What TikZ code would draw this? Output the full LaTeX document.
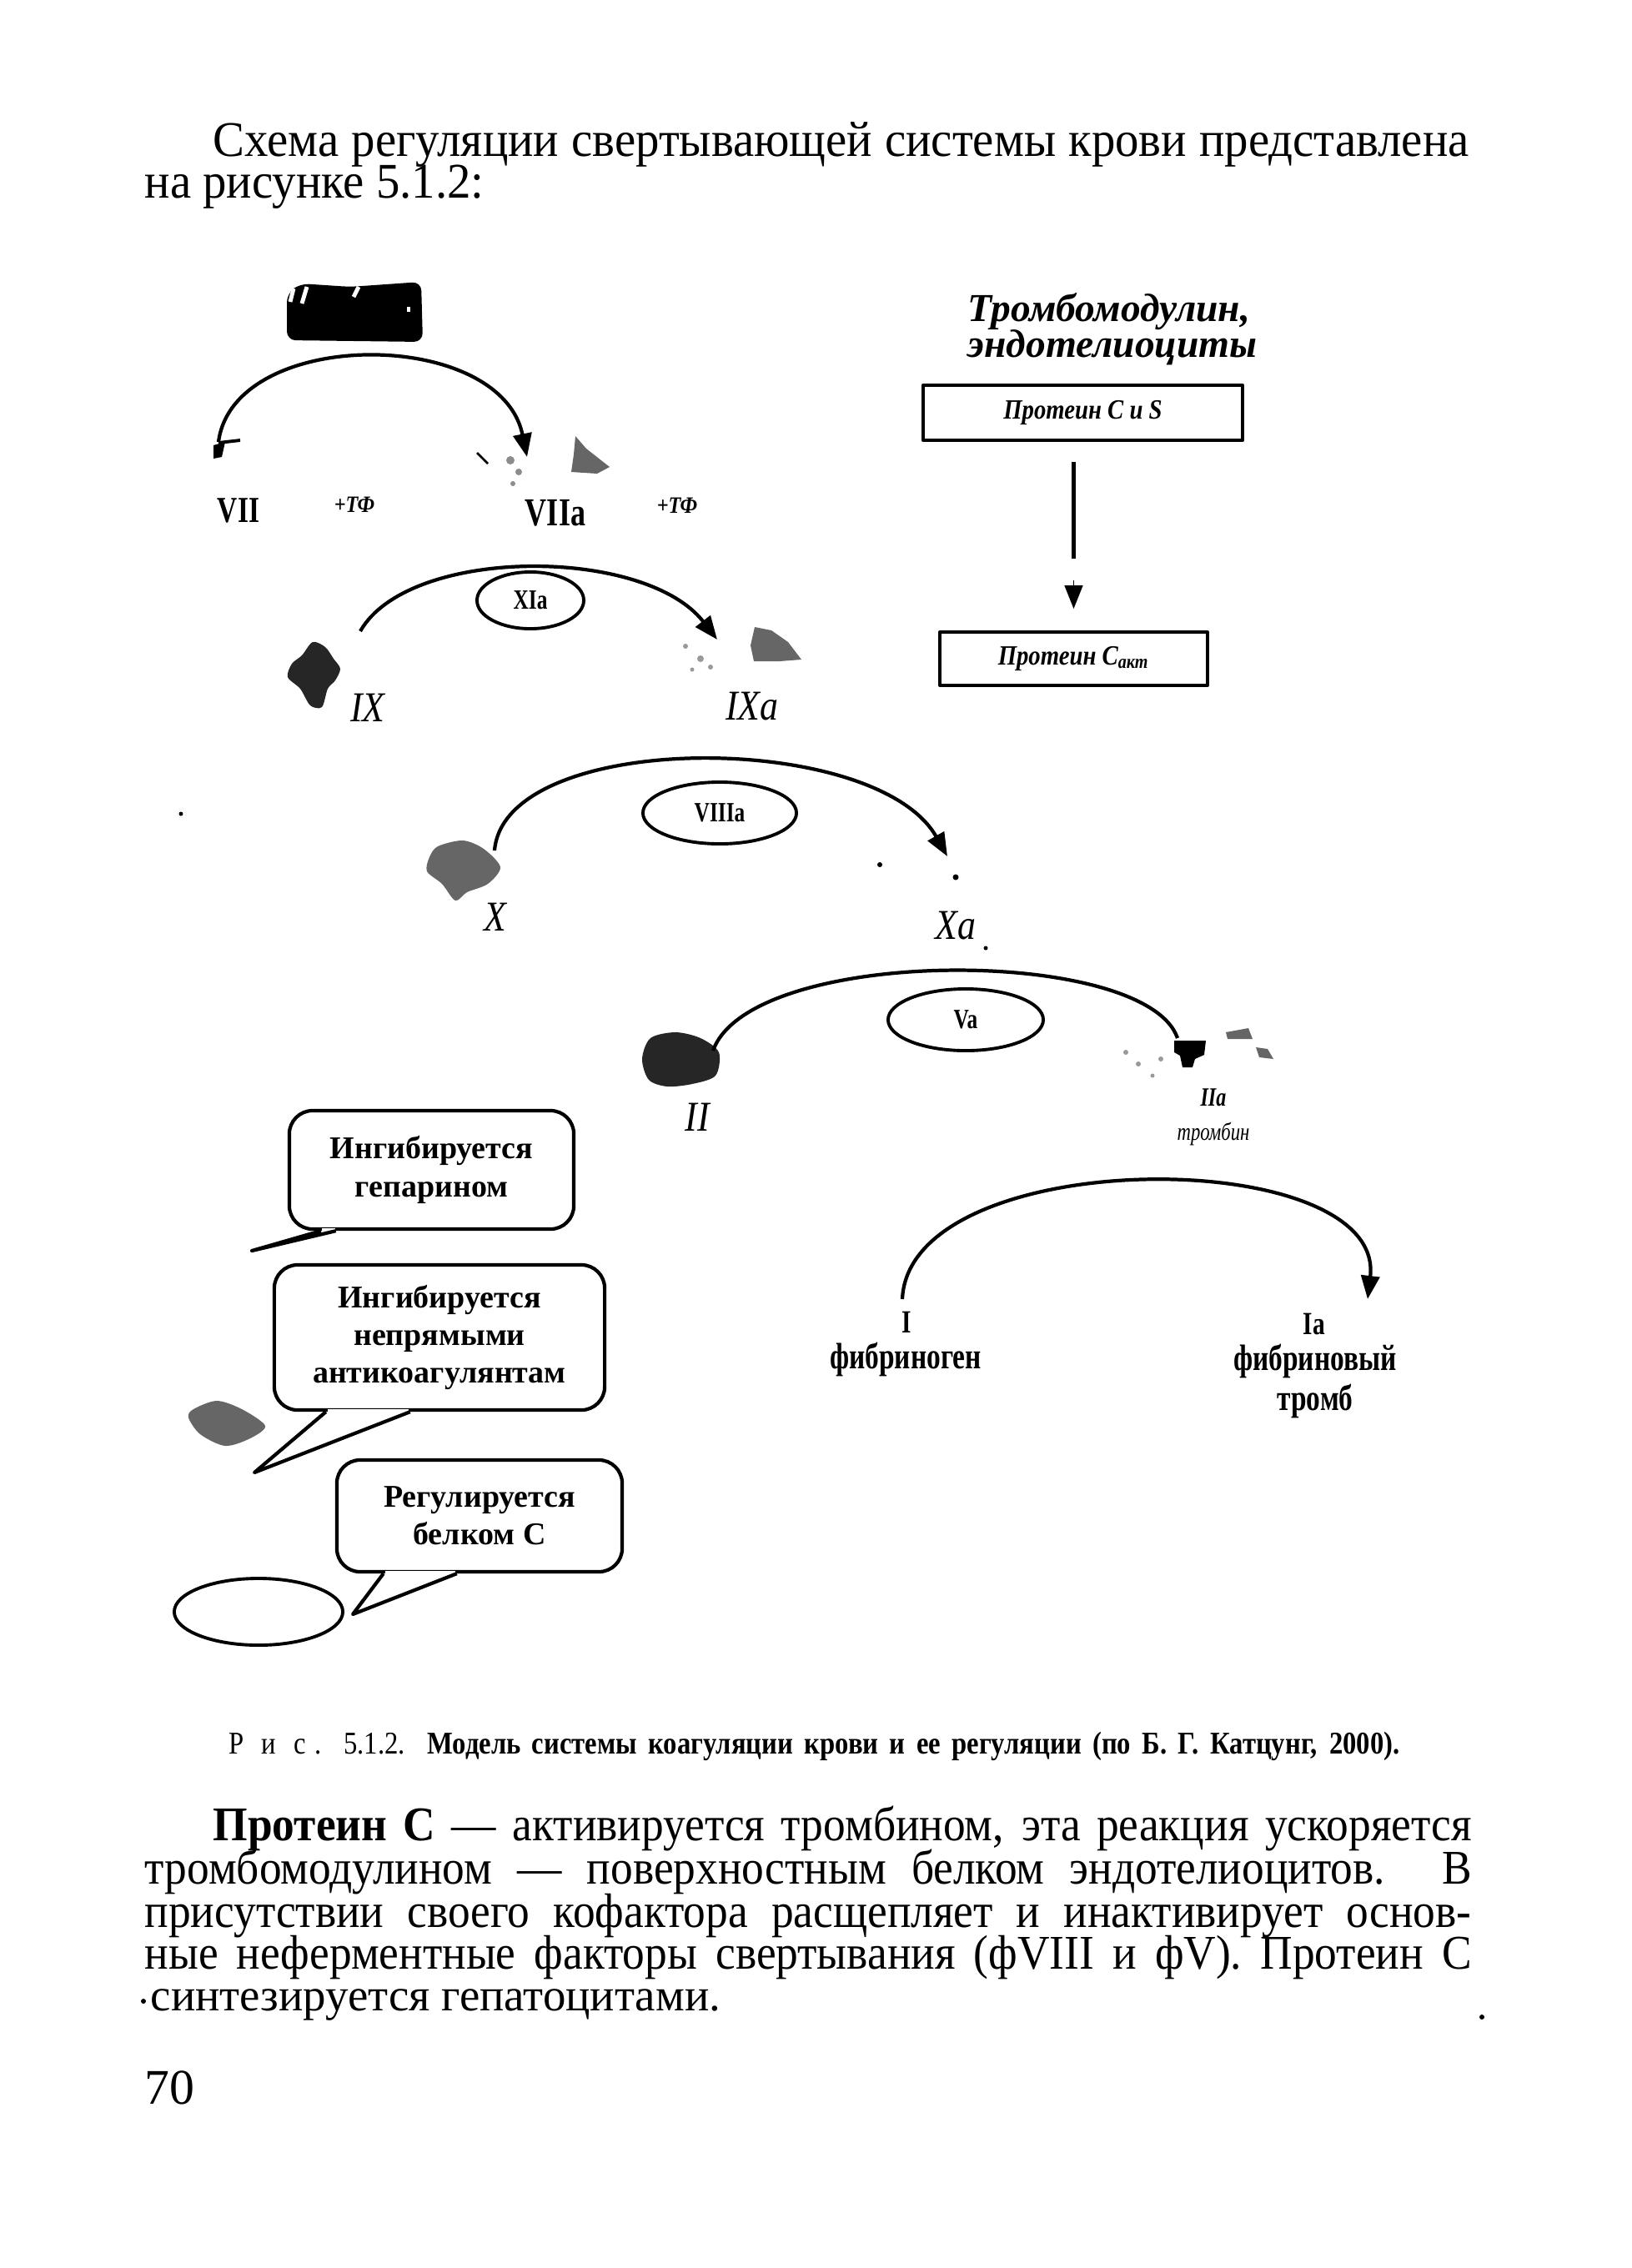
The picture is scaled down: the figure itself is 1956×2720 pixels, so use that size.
\documentclass[tikz,border=0pt]{standalone}
\usepackage{fontspec}
\setmainfont{Liberation Serif}
\newfontfamily\cnd[FakeStretch=0.95]{Liberation Serif}
\newfontfamily\cndp[FakeStretch=0.92]{Liberation Serif}
\newfontfamily\cndb[FakeStretch=0.86]{Liberation Serif}
\newfontfamily\cndd[FakeStretch=0.76]{Liberation Serif}
\usetikzlibrary{arrows.meta,shapes.geometric,calc}
\newcommand\fsz[1]{\fontsize{#1pt}{#1pt}\selectfont}
\begin{document}
\begin{tikzpicture}[x=0.01cm,y=-0.01cm,line join=round,
  arc/.style={line width=1.2pt},
  tipa/.style={-{Triangle[length=0.28cm,width=0.22cm]}},
  pbox/.style={draw,line width=1.1pt,inner sep=0pt},
  oval/.style={draw,ellipse,line width=1.1pt,inner sep=0pt},
  cbox/.style={draw,line width=1.2pt,rounded corners=0.28cm,inner sep=0pt,align=center,font=\bfseries\fontsize{10.8pt}{12.9pt}\selectfont},
  lbl/.style={inner sep=0pt},
  blob/.style={fill=black!85},
  gblob/.style={fill=black!60},
  txt/.style={inner sep=0pt,anchor=base west}]
\useasboundingbox (0,0) rectangle (1956,2720);

% ---------- page text ----------
\node[txt] (h1) at (255,187) {\makebox[15.05cm][s]{\cnd\fsz{17}Схема регуляции свертывающей системы крови представлена}};
\node[txt] (h2) at (173,237) {\cnd\fsz{17}на рисунке 5.1.2:};

% ---------- top-left blob ----------
\fill[black,rounded corners=3pt] (344,352) -- (360,340) -- (420,344) -- (505,338) -- (507,410) -- (344,408) -- cycle;
\draw[white,line width=1.4pt] (352,346) -- (348,362);
\draw[white,line width=1.4pt] (368,344) -- (362,364);
\draw[white,line width=1.4pt] (430,344) -- (424,356);
\draw[white,line width=1.4pt] (490,368) -- (490,374);

% ---------- row 1 ----------
\coordinate (a1s) at (262,530);
\coordinate (a1e) at (632,548);
\draw[arc,tipa] (a1s) .. controls (280,392) and (600,392) .. (a1e);
\fill[black] (256,534) -- (270,530) -- (266,548) -- (256,550) -- cycle;
\draw[line width=1.1pt] (262,531) -- (288,528);
\fill[gblob] (690,523) -- (703,538) -- (731,560) -- (716,568) -- (685,566) -- (688,545) -- cycle;
\fill[black!45] (612,552) circle (5) (622,566) circle (4) (615,580) circle (3);
\draw[line width=0.8pt] (572,543) -- (585,556);
\node[lbl,font=\cndd\bfseries\fsz{12.5}] (vii) at (286,612) {VII};
\node[lbl,font=\cndb\bfseries\itshape\fsz{8}] (tf1) at (425,605) {+ТФ};
\node[lbl,font=\cndd\bfseries\fsz{13.5}] (viia) at (666,615) {VIIa};
\node[lbl,font=\cndb\bfseries\itshape\fsz{8}] (tf2) at (812,606) {+ТФ};

% ---------- right column ----------
\node[txt,font=\bfseries\itshape\fsz{13.5}] (tm1) at (1160,385) {Тромбомодулин,};
\node[txt,font=\bfseries\itshape\fsz{13.5}] (tm2) at (1160,428) {эндотелиоциты};
\node[pbox,minimum width=3.83cm,minimum height=0.66cm,font=\cndb\bfseries\itshape\fsz{9.5}] (b1) at (1298.5,495) {Протеин С и S};
\node[pbox,minimum width=3.21cm,minimum height=0.64cm,font=\cndb\bfseries\itshape\fsz{9.5}] (b2) at (1287.5,790) {Протеин С\textsubscript{акт}};
\draw[line width=1.2pt] ($(b1.south)+(-11,24)$) -- ($(b1.south)+(-11,140)$);
\draw[tipa] ($(b2.north)+(0,-60)$) -- ($(b2.north)+(0,-26)$);

% ---------- row 2 ----------
\fill[blob] plot[smooth cycle] coordinates {(375,770) (390,776) (400,790) (408,802) (402,816) (393,826) (386,848) (372,846) (360,826) (345,812) (350,796) (362,786)};
\fill[gblob] (905,752) -- (925,756) -- (945,770) -- (961,791) -- (935,793) -- (904,793) -- (900,774) -- cycle;
\fill[black!40] (822,775) circle (3) (840,790) circle (4) (852,800) circle (3) (830,803) circle (2.5);
\coordinate (a2s) at (432,757);
\coordinate (a2e) at (860,767);
\draw[arc,tipa] (a2s) .. controls (490,655) and (773,655) .. (a2e);
\node[oval,minimum width=1.28cm,minimum height=0.68cm,font=\cndd\bfseries\fsz{9.5}] (xia) at (636,720) {XIa};
\node[lbl,font=\cndb\itshape\fsz{14.5}] (ix) at (441,849) {IX};
\node[lbl,font=\cndb\itshape\fsz{14.5}] (ixa) at (902,847) {IXa};

% ---------- row 3 ----------
\fill[gblob] plot[smooth cycle] coordinates {(525,1015) (555,1008) (580,1018) (600,1040) (585,1060) (560,1070) (546,1080) (530,1060) (512,1045) (515,1028)};
\fill[black] (217,976) circle (2.5) (1055,1037) circle (3) (1146,1052) circle (3.5) (1182,1137) circle (2.5);
\coordinate (a3s) at (593,1020);
\coordinate (a3e) at (1136,1027);
\draw[arc,tipa] (a3s) .. controls (605,875) and (1050,875) .. (a3e);
\node[oval,minimum width=1.84cm,minimum height=0.74cm,font=\cndd\bfseries\fsz{9.5}] (viiia) at (863,975) {VIIIa};
\node[lbl,font=\cndb\itshape\fsz{14.5}] (x) at (594,1100) {X};
\node[lbl,font=\cndb\itshape\fsz{14.5}] (xa) at (1146,1110) {Xa};

% ---------- row 4 ----------
\fill[blob] plot[smooth cycle] coordinates {(780,1245) (810,1238) (840,1245) (862,1262) (858,1290) (830,1300) (800,1303) (778,1295) (770,1270)};
\fill[black] (1408,1248) -- (1446,1248) -- (1444,1265) -- (1433,1270) -- (1430,1280) -- (1418,1280) -- (1415,1266) -- (1408,1262) -- cycle;
\fill[gblob] (1470,1238) -- (1497,1233) -- (1502,1246) -- (1472,1246) -- cycle;
\fill[gblob] (1506,1256) -- (1520,1258) -- (1527,1270) -- (1510,1268) -- cycle;
\fill[black!40] (1350,1262) circle (3) (1365,1276) circle (3) (1382,1290) circle (2.5) (1392,1270) circle (3);
\coordinate (a4s) at (855,1260);
\coordinate (a4e) at (1412,1245);
\draw[arc] (a4s) .. controls (900,1134) and (1374,1134) .. (a4e);
\node[oval,minimum width=1.86cm,minimum height=0.74cm,font=\cndd\bfseries\fsz{9.5}] (va) at (1158,1223) {Va};
\node[lbl,font=\cndb\itshape\fsz{14.5}] (ii) at (836,1340) {II};
\node[lbl,font=\cndd\bfseries\itshape\fsz{9}] (iia) at (1455,1316) {IIa};
\node[lbl,font=\cndd\itshape\fsz{8.5}] (tromb) at (1455,1360) {тромбин};

% ---------- row 5 ----------
\coordinate (a5s) at (1082,1558);
\coordinate (a5e) at (1640,1558);
\draw[arc,tipa] (a5s) .. controls (1090,1371) and (1662,1371) .. (a5e);
\node[lbl,font=\cndd\bfseries\fsz{11}] (f1) at (1087,1586) {I};
\node[lbl,font=\cndd\bfseries\fsz{12.5}] (f2) at (1086,1630) {фибриноген};
\node[lbl,font=\cndd\bfseries\fsz{11}] (f3) at (1576,1588) {Ia};
\node[lbl,font=\cndd\bfseries\fsz{12.5}] (f4) at (1577,1632) {фибриновый};
\node[lbl,font=\cndd\bfseries\fsz{12.5}] (f5) at (1577,1680) {тромб};

% ---------- callouts ----------
\node[cbox,minimum width=3.41cm,minimum height=1.42cm] (c1) at (517.5,1403) {Ингибируется\\гепарином};
\coordinate (t1) at (302,1500);
\fill[white] ($(c1.south west)+(41,-3)$) rectangle ($(c1.south west)+(57,3)$);
\draw[line width=1.2pt] ($(c1.south west)+(40,0)$) -- (t1) -- ($(c1.south west)+(58,0)$);

\node[cbox,minimum width=3.96cm,minimum height=1.74cm] (c2) at (527,1604) {Ингибируется\\непрямыми\\антикоагулянтам};
\coordinate (t2) at (305,1766);
\fill[white] ($(c2.south west)+(66,-3)$) rectangle ($(c2.south west)+(163,3)$);
\draw[line width=1.2pt] ($(c2.south west)+(64,0)$) -- (t2) -- ($(c2.south west)+(165,0)$);
\fill[gblob] plot[smooth cycle] coordinates {(232,1690) (260,1680) (290,1690) (318,1710) (300,1725) (270,1734) (240,1720) (226,1700)};

\node[cbox,minimum width=3.42cm,minimum height=1.34cm] (c3) at (575,1818) {Регулируется\\белком С};
\node[oval,minimum width=2.02cm,minimum height=0.8cm] (e1) at (310,1933) {};
\fill[white] ($(c3.south west)+(60,-3)$) rectangle ($(c3.south west)+(144,3)$);
\draw[line width=1.2pt] ($(c3.south west)+(58,0)$) -- ($(e1.east)+(10,3)$) -- ($(c3.south west)+(146,0)$);

% ---------- caption ----------
\node[txt] (cap) at (274,2103) {\makebox[14.03cm][s]{\cndb\fsz{10.8}Р\;\;и\;\;с\;. 5.1.2. \bfseries Модель системы коагуляции крови и ее регуляции (по Б. Г. Катцунг, 2000).}};

% ---------- paragraph ----------
\node[txt] (p1) at (255,2207) {\makebox[15.08cm][s]{\cndp\fsz{16.5}\textbf{Протеин С} — активируется тромбином, эта реакция ускоряется}};
\node[txt] (p2) at (173,2259) {\makebox[15.90cm][s]{\cndp\fsz{16.5}тромбомодулином — поверхностным белком эндотелиоцитов. В}};
\node[txt] (p3) at (173,2311) {\makebox[15.90cm][s]{\cndp\fsz{16.5}присутствии своего кофактора расщепляет и инактивирует основ-}};
\node[txt] (p4) at (173,2361) {\makebox[15.90cm][s]{\cndp\fsz{16.5}ные неферментные факторы свертывания (фVIII и фV). Протеин С}};
\node[txt] (p5) at (180,2411) {\fsz{15.6}синтезируется гепатоцитами.};
\fill[black] (172,2400) circle (3) (1777,2419) circle (3);
\node[txt] (pg) at (173,2523) {\fsz{17}70};
\end{tikzpicture}
\end{document}
